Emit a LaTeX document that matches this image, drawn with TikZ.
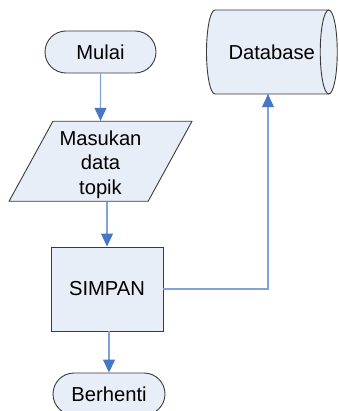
\documentclass[tikz,border=0pt]{standalone}
\usepackage{fontspec}
\setmainfont{Liberation Sans}
\usetikzlibrary{shapes.misc,shapes.geometric,arrows.meta}
\definecolor{boxfill}{HTML}{E8EEF8}
\definecolor{boxline}{HTML}{3A3A3A}
\definecolor{flowline}{HTML}{7FA2D8}
\definecolor{flowtip}{HTML}{4677C6}
\tikzset{
  every node/.style={font=\fontsize{20.2}{24.3}\selectfont, inner sep=0pt},
  shapebox/.style={draw=boxline, fill=boxfill, line width=0.9pt},
  terminal/.style={shapebox, rounded rectangle, minimum height=42pt},
  process/.style={shapebox, rectangle, minimum width=112pt, minimum height=84pt},
  inputbox/.style={shapebox, trapezium, trapezium left angle=62.9,
    trapezium right angle=117.1, trapezium stretches=true,
    minimum width=183pt, minimum height=80pt, align=center},
  storagearea/.style={rectangle, minimum width=131pt, minimum height=84pt},
  flow/.style={draw=flowline, line width=1.1pt,
    -{Triangle[width=12pt,length=13pt,color=flowtip]}},
  link/.style={draw=flowline, line width=1.1pt}
}
\begin{document}
\begin{tikzpicture}[x=1pt,y=-1pt]
  \useasboundingbox (0,0) rectangle (338,411);
  \clip (0,0) rectangle (338,411);

  % storage drum lying on its side (end radius 8.5pt x 42pt)
  \coordinate (dbpos) at (271.75,52);
  \path[shapebox]
    ([shift={(-56.75,-42)}]dbpos) -- ([shift={(57,-42)}]dbpos)
    arc[start angle=90, end angle=-90, x radius=8.5pt, y radius=42pt]
    -- ([shift={(-56.75,42)}]dbpos)
    arc[start angle=270, end angle=90, x radius=8.5pt, y radius=42pt]
    -- cycle;
  \draw[boxline, line width=0.9pt] ([shift={(57,-42)}]dbpos)
    arc[start angle=90, end angle=270, x radius=8.5pt, y radius=42pt];
  % caption sits a little left of the drum's middle
  \node[storagearea] (db) at (dbpos) {Database\hspace{7.5pt}};
  \coordinate (dbin) at ([xshift=-3.75pt]db.south);

  % flowchart steps
  \node[terminal, minimum width=111pt] (mulai) at (100.5,52) {Mulai};
  \node[inputbox] (masukan) at (100.5,161.3)
    {\rule{0pt}{21pt}Masukan\\data\\topik};
  \node[process] (simpan) at (107,289) {SIMPAN};
  \node[terminal, minimum width=112pt] (berhenti) at (109,394) {Berhenti};

  % connectors
  \draw[flow] (mulai.south) -- (masukan.north);
  \draw[flow] (simpan.north |- masukan.south) -- (simpan.north);
  \draw[flow] (berhenti.north |- simpan.south) -- (berhenti.north);
  \draw[link] (simpan.east) -| (dbin);
  \draw[flow] (dbin |- simpan.east) -- (dbin);
\end{tikzpicture}
\end{document}
